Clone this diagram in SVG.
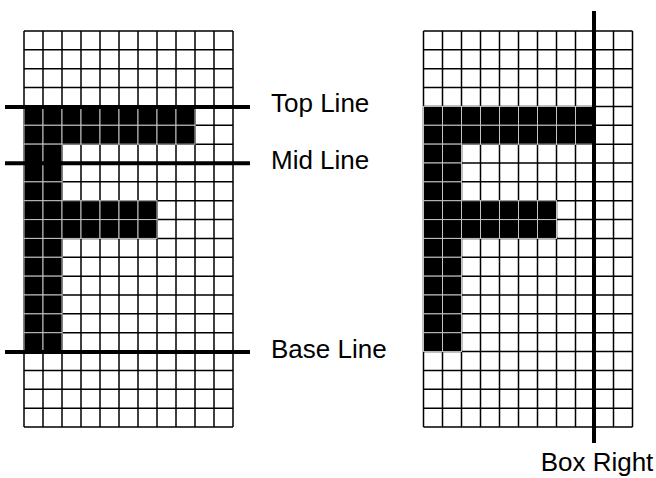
<svg xmlns="http://www.w3.org/2000/svg" xmlns:xlink="http://www.w3.org/1999/xlink" width="656" height="478" viewBox="0 0 656 478">
<style>
.grid{fill:none;stroke:#000;stroke-width:1.5}
.b{fill:#000;stroke:#c4c4c4;stroke-width:1}
.cell{fill:#fff}
.guide{stroke:#000;stroke-width:4;fill:none}
.lbl{font-family:"Liberation Sans",Arial,sans-serif;font-size:26px;fill:#000}
</style>
<defs>
<g id="fgrid">
<rect class="cell" x="0" y="0" width="209" height="396"/>
<path class="grid" d="M0 0V396M19 0V396M38 0V396M57 0V396M76 0V396M95 0V396M114 0V396M133 0V396M152 0V396M171 0V396M190 0V396M209 0V396M0 0H209M0 18.857H209M0 37.714H209M0 56.571H209M0 75.429H209M0 94.286H209M0 113.143H209M0 132H209M0 150.857H209M0 169.714H209M0 188.571H209M0 207.429H209M0 226.286H209M0 245.143H209M0 264H209M0 282.857H209M0 301.714H209M0 320.571H209M0 339.429H209M0 358.286H209M0 377.143H209M0 396H209"/>
<g id="fshape">
<rect class="b" x="0" y="75.429" width="19" height="18.857"/><rect class="b" x="19" y="75.429" width="19" height="18.857"/><rect class="b" x="38" y="75.429" width="19" height="18.857"/><rect class="b" x="57" y="75.429" width="19" height="18.857"/><rect class="b" x="76" y="75.429" width="19" height="18.857"/><rect class="b" x="95" y="75.429" width="19" height="18.857"/><rect class="b" x="114" y="75.429" width="19" height="18.857"/><rect class="b" x="133" y="75.429" width="19" height="18.857"/><rect class="b" x="152" y="75.429" width="19" height="18.857"/>
<rect class="b" x="0" y="94.286" width="19" height="18.857"/><rect class="b" x="19" y="94.286" width="19" height="18.857"/><rect class="b" x="38" y="94.286" width="19" height="18.857"/><rect class="b" x="57" y="94.286" width="19" height="18.857"/><rect class="b" x="76" y="94.286" width="19" height="18.857"/><rect class="b" x="95" y="94.286" width="19" height="18.857"/><rect class="b" x="114" y="94.286" width="19" height="18.857"/><rect class="b" x="133" y="94.286" width="19" height="18.857"/><rect class="b" x="152" y="94.286" width="19" height="18.857"/>
<rect class="b" x="0" y="113.143" width="19" height="18.857"/><rect class="b" x="19" y="113.143" width="19" height="18.857"/>
<rect class="b" x="0" y="132" width="19" height="18.857"/><rect class="b" x="19" y="132" width="19" height="18.857"/>
<rect class="b" x="0" y="150.857" width="19" height="18.857"/><rect class="b" x="19" y="150.857" width="19" height="18.857"/>
<rect class="b" x="0" y="169.714" width="19" height="18.857"/><rect class="b" x="19" y="169.714" width="19" height="18.857"/><rect class="b" x="38" y="169.714" width="19" height="18.857"/><rect class="b" x="57" y="169.714" width="19" height="18.857"/><rect class="b" x="76" y="169.714" width="19" height="18.857"/><rect class="b" x="95" y="169.714" width="19" height="18.857"/><rect class="b" x="114" y="169.714" width="19" height="18.857"/>
<rect class="b" x="0" y="188.571" width="19" height="18.857"/><rect class="b" x="19" y="188.571" width="19" height="18.857"/><rect class="b" x="38" y="188.571" width="19" height="18.857"/><rect class="b" x="57" y="188.571" width="19" height="18.857"/><rect class="b" x="76" y="188.571" width="19" height="18.857"/><rect class="b" x="95" y="188.571" width="19" height="18.857"/><rect class="b" x="114" y="188.571" width="19" height="18.857"/>
<rect class="b" x="0" y="207.429" width="19" height="18.857"/><rect class="b" x="19" y="207.429" width="19" height="18.857"/>
<rect class="b" x="0" y="226.286" width="19" height="18.857"/><rect class="b" x="19" y="226.286" width="19" height="18.857"/>
<rect class="b" x="0" y="245.143" width="19" height="18.857"/><rect class="b" x="19" y="245.143" width="19" height="18.857"/>
<rect class="b" x="0" y="264" width="19" height="18.857"/><rect class="b" x="19" y="264" width="19" height="18.857"/>
<rect class="b" x="0" y="282.857" width="19" height="18.857"/><rect class="b" x="19" y="282.857" width="19" height="18.857"/>
<rect class="b" x="0" y="301.714" width="19" height="18.857"/><rect class="b" x="19" y="301.714" width="19" height="18.857"/>
</g>
</g>
</defs>
<g id="left-grid" transform="translate(24,31)"><use xlink:href="#fgrid"/></g>
<g id="right-grid" transform="translate(423.5,31)"><use xlink:href="#fgrid"/></g>
<g id="guides">
<line id="top-line" class="guide" x1="5" y1="107" x2="250" y2="107"/>
<line id="mid-line" class="guide" x1="5" y1="163.3" x2="250" y2="163.3"/>
<line id="base-line" class="guide" x1="5" y1="352" x2="250" y2="352"/>
<line id="box-right" class="guide" x1="594" y1="11" x2="594" y2="443"/>
</g>
<g id="labels">
<text class="lbl" x="271" y="112">Top Line</text>
<text class="lbl" x="271" y="169">Mid Line</text>
<text class="lbl" x="271" y="358">Base Line</text>
<text class="lbl" x="597" y="471" text-anchor="middle">Box Right</text>
</g>
</svg>
